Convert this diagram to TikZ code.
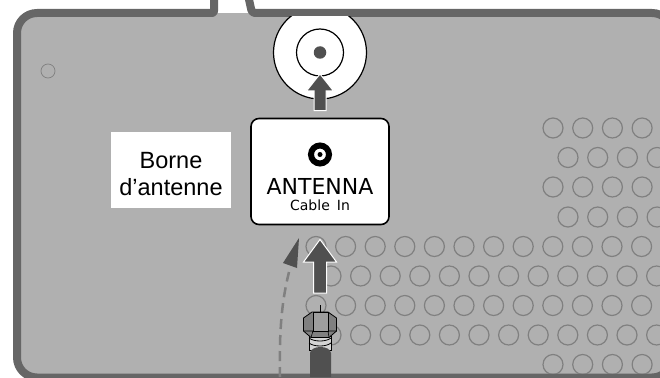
\documentclass[tikz,border=0pt]{standalone}
\usepackage{fontspec}
\setmainfont{Liberation Sans}
\newfontfamily\dv{DejaVu Sans}
\definecolor{body}{HTML}{B0B0B0}
\definecolor{edgec}{HTML}{666666}
\definecolor{holec}{HTML}{808080}
\definecolor{arrowc}{HTML}{505050}
\tikzset{
  hole/.style={circle,draw=holec,line width=1.2pt,minimum size=20pt,inner sep=0pt},
  bigarrow/.style={fill=arrowc,draw=white,line width=1pt,line join=miter},
  panel/.style={draw=black,fill=white,line width=1.6pt,rounded corners=8pt,minimum width=138pt,minimum height=106pt,inner sep=0pt},
  lblbox/.style={fill=white,minimum width=120pt,minimum height=76pt,inner sep=0pt},
  lbl/.style={align=center,font=\fontsize{23.5pt}{27pt}\selectfont,inner sep=0pt},
  ringline/.style={draw=black,line width=.8pt}
}
\begin{document}
\begin{tikzpicture}[x=1pt,y=-1pt]
\useasboundingbox (0,0) rectangle (660,377);
\clip (0,0) rectangle (660,377);
% body
\fill[body,rounded corners=20pt] (17,13) -- (17,377.5) -- (672,377.5) -- (672,13) -- cycle;
\fill[white] (218,0) -- (218,13) -- (249,13) -- (245,0) -- cycle;
\draw[draw=edgec,line width=8pt,line join=round]
  (214,-5) [rounded corners=2pt] -- (214,13) [rounded corners=20pt] -- (17,13) -- (17,377.5) -- (672,377.5) -- (672,13) [rounded corners=3pt] -- (252,13) -- (248,-5);
% holes
\foreach \r/\y in {0/128,2/187}{\foreach \i in {0,1,2,3}{\node[hole] (ha\r\i) at (553+29.7*\i,\y) {};}}
\foreach \r/\y in {1/157.5,3/217}{\foreach \i in {0,1,2,3}{\node[hole] (hb\r\i) at (568+29.7*\i,\y) {};}}
\foreach \r/\y in {4/246.5,6/305.5}{\foreach \i in {0,...,11}{\node[hole] (hc\r\i) at (316+29.6*\i,\y) {};}}
\foreach \r/\y in {5/276,7/335}{\foreach \i in {0,...,11}{\node[hole] (hd\r\i) at (331+29.6*\i,\y) {};}}
\begin{scope}
\clip (0,0) rectangle (660,373);
\foreach \i in {0,1,2,3}{\node[hole] (he\i) at (553+29.7*\i,364.5) {};}
\end{scope}
\node[hole,minimum size=14pt,line width=.7pt] (screw) at (48,71) {};
% jack
\begin{scope}
\clip (250,17) rectangle (400,120);
\node[circle,draw=black,fill=white,line width=1.2pt,minimum size=93pt,inner sep=0pt] (jack) at (320,52.5) {};
\end{scope}
\node[circle,draw=black,line width=1.2pt,minimum size=47pt,inner sep=0pt] (jackin) at (320,52.5) {};
\node[circle,fill=arrowc,minimum size=12.5pt,inner sep=0pt] (pin) at (320,52.5) {};
\draw[bigarrow] (314,110.5) -- (314,91) -- (306.5,91) -- (320,74) -- (333.5,91) -- (326,91) -- (326,110.5) -- cycle;
% panel
\node[panel] (card) at (320,171.5) {};
\node[circle,draw=black,line width=6pt,minimum size=18pt,inner sep=0pt] (sock) at (320,154.5) {};
\node[circle,fill=black,minimum size=5pt,inner sep=0pt] at (sock) {};
\node[font=\dv\fontsize{22pt}{24pt}\selectfont,inner sep=0pt] (ant) at (320,186) {ANTENNA};
\node[font=\dv\fontsize{14pt}{15pt}\selectfont,inner sep=0pt] (cab) at (320,205) {Cable\hspace{7pt}In};
% label
\node[lblbox] (labelbox) at (171,170) {};
\node[lbl] (label) at (171,174) {Borne\\d’antenne};
% dashed
\coordinate (ds) at (280,377);
\draw[holec,line width=2.5pt,dash pattern=on 10pt off 6pt] (ds) .. controls (279,330) and (282,300) .. (289,272);
\fill[arrowc] (299,238) -- (283,263) -- (297,268) -- cycle;
% big arrow
\draw[bigarrow] (313.5,293) -- (313.5,262) -- (303.5,262) -- (320,239.5) -- (336.5,262) -- (326.5,262) -- (326.5,293) -- cycle;
% connector
\draw[black,line width=.6pt] (320,305) -- (320,313);
\path[ringline,fill=body!55!white] (309,336) -- (331,336) -- (331,350) -- (309,350) -- cycle;
\draw[ringline] (309,338) .. controls (314,342) and (326,342) .. (331,338);
\draw[ringline] (309,343) .. controls (314,347) and (326,347) .. (331,343);
\draw[black,line width=.8pt,fill=holec,line join=round] (312,312) -- (328,312) -- (336.5,318) -- (336.5,331) -- (329,337.5) -- (311,337.5) -- (303.5,331) -- (303.5,318) -- cycle;
\draw[black,line width=.6pt,fill=body!90!black] (313,312) -- (328,312) -- (328,331) -- (313,331) -- cycle;
\draw[black,line width=.6pt] (303.5,331) -- (313,331) (328,331) -- (336.5,331) (313,331) -- (311,337.5) (328,331) -- (329,337.5);
\fill[arrowc] (310,377) -- (310,353) .. controls (311,345) and (330,345) .. (331,353) -- (331,377) -- cycle;
\end{tikzpicture}
\end{document}
